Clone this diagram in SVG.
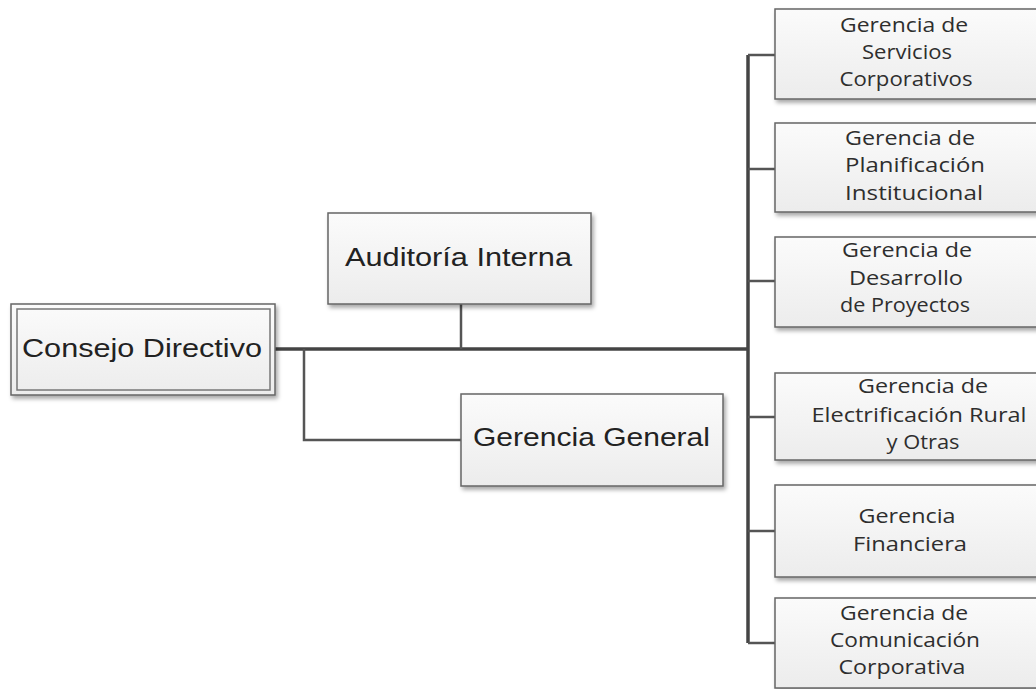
<svg xmlns="http://www.w3.org/2000/svg" width="1036" height="689" viewBox="0 0 1036 689">
  <defs>
    <linearGradient id="boxFill" x1="0" y1="0" x2="0" y2="1">
      <stop offset="0" stop-color="#fbfbfb"/>
      <stop offset="1" stop-color="#ececec"/>
    </linearGradient>
    <filter id="shadow" x="-10%" y="-10%" width="130%" height="140%">
      <feDropShadow dx="2" dy="3" stdDeviation="2" flood-color="#000" flood-opacity="0.35"/>
    </filter>
    <style>
      .box { fill: url(#boxFill); stroke: #666; stroke-width: 1.5; }
      .plain { fill: none; stroke: #777; stroke-width: 1.5; }
      .big { font-family: "Liberation Sans", Arial, sans-serif; font-size: 26px; fill: #222; }
      .unit { font-family: "Open Sans", "Noto Sans", sans-serif; font-size: 19.5px; fill: #2e2e2e; text-anchor: middle; }
      .bus { fill: none; stroke: #444; stroke-width: 3.5; }
      .link { fill: none; stroke: #555; stroke-width: 2.5; }
    </style>
  </defs>
  <rect width="1036" height="689" fill="#fff"/>

  <!-- connectors -->
  <g id="connectors">
    <line class="bus" x1="275" y1="349" x2="749" y2="349"/>
    <line class="link" x1="461" y1="304" x2="461" y2="349"/>
    <polyline class="link" points="304,349 304,440 461,440"/>
    <line class="bus" x1="748" y1="55" x2="748" y2="643"/>
    <line class="link" x1="748" y1="55" x2="775" y2="55"/>
    <line class="link" x1="748" y1="169" x2="775" y2="169"/>
    <line class="link" x1="748" y1="281" x2="775" y2="281"/>
    <line class="link" x1="748" y1="417" x2="775" y2="417"/>
    <line class="link" x1="748" y1="531" x2="775" y2="531"/>
    <line class="link" x1="748" y1="643" x2="775" y2="643"/>
  </g>

  <g id="consejo-directivo">
    <rect class="box" x="11" y="304" width="264" height="91" filter="url(#shadow)"/>
    <rect class="plain" x="17" y="309" width="253" height="81"/>
    <text class="big" x="22" y="357" textLength="240" lengthAdjust="spacingAndGlyphs">Consejo Directivo</text>
  </g>

  <g id="auditoria-interna">
    <rect class="box" x="328" y="213" width="263" height="91" filter="url(#shadow)"/>
    <text class="big" x="345" y="266" textLength="227" lengthAdjust="spacingAndGlyphs">Auditoría Interna</text>
  </g>

  <g id="gerencia-general">
    <rect class="box" x="461" y="394" width="262" height="92" filter="url(#shadow)"/>
    <text class="big" x="473" y="446" textLength="237" lengthAdjust="spacingAndGlyphs">Gerencia General</text>
  </g>

  <g id="servicios-corporativos">
    <rect class="box" x="775" y="9" width="275" height="90" filter="url(#shadow)"/>
    <text class="unit" x="904" y="32" textLength="128" lengthAdjust="spacingAndGlyphs">Gerencia de</text>
    <text class="unit" x="907" y="59" textLength="90" lengthAdjust="spacingAndGlyphs">Servicios</text>
    <text class="unit" x="906" y="86" textLength="133" lengthAdjust="spacingAndGlyphs">Corporativos</text>
  </g>

  <g id="planificacion-institucional">
    <rect class="box" x="775" y="123" width="275" height="89" filter="url(#shadow)"/>
    <text class="unit" x="910" y="145" textLength="130" lengthAdjust="spacingAndGlyphs">Gerencia de</text>
    <text class="unit" x="915" y="172" textLength="140" lengthAdjust="spacingAndGlyphs">Planificación</text>
    <text class="unit" x="914" y="200" textLength="138" lengthAdjust="spacingAndGlyphs">Institucional</text>
  </g>

  <g id="desarrollo-proyectos">
    <rect class="box" x="775" y="237" width="275" height="90" filter="url(#shadow)"/>
    <text class="unit" x="907" y="257" textLength="130" lengthAdjust="spacingAndGlyphs">Gerencia de</text>
    <text class="unit" x="906" y="285" textLength="114" lengthAdjust="spacingAndGlyphs">Desarrollo</text>
    <text class="unit" x="905" y="312" textLength="130" lengthAdjust="spacingAndGlyphs">de Proyectos</text>
  </g>

  <g id="electrificacion-rural">
    <rect class="box" x="775" y="373" width="275" height="87" filter="url(#shadow)"/>
    <text class="unit" x="923" y="393" textLength="130" lengthAdjust="spacingAndGlyphs">Gerencia de</text>
    <text class="unit" x="919" y="422" textLength="215" lengthAdjust="spacingAndGlyphs">Electrificación Rural</text>
    <text class="unit" x="923" y="449" textLength="73" lengthAdjust="spacingAndGlyphs">y Otras</text>
  </g>

  <g id="gerencia-financiera">
    <rect class="box" x="775" y="485" width="275" height="92" filter="url(#shadow)"/>
    <text class="unit" x="907" y="523" textLength="97" lengthAdjust="spacingAndGlyphs">Gerencia</text>
    <text class="unit" x="910" y="551" textLength="114" lengthAdjust="spacingAndGlyphs">Financiera</text>
  </g>

  <g id="comunicacion-corporativa">
    <rect class="box" x="775" y="598" width="275" height="90" filter="url(#shadow)"/>
    <text class="unit" x="904" y="620" textLength="128" lengthAdjust="spacingAndGlyphs">Gerencia de</text>
    <text class="unit" x="905" y="647" textLength="150" lengthAdjust="spacingAndGlyphs">Comunicación</text>
    <text class="unit" x="902" y="674" textLength="127" lengthAdjust="spacingAndGlyphs">Corporativa</text>
  </g>
</svg>
